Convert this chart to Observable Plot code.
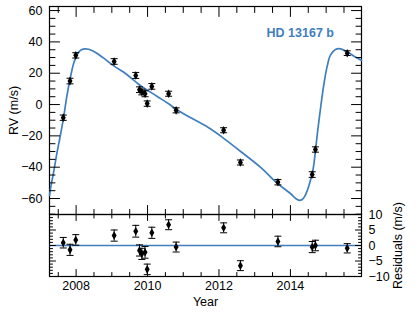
<!DOCTYPE html>
<html><head><meta charset="utf-8">
<script src="https://cdn.jsdelivr.net/npm/d3@7"></script>
<script src="https://cdn.jsdelivr.net/npm/@observablehq/plot@0.6"></script>
<style>
body{margin:0;background:#fff;}
#chart{position:relative;width:415px;height:312px;}
#chart > svg{position:absolute;left:0;overflow:visible;background:none;}
</style></head><body><div id="chart"></div>
<script>
// ---- data ----
const obsYear = [2007.64, 2007.83, 2007.99, 2009.065, 2009.67, 2009.775, 2009.84, 2009.93, 2009.99, 2010.12, 2010.59, 2010.80, 2012.13, 2012.60, 2013.65, 2014.61, 2014.70, 2015.59];
const obsRV   = [-8.4, 15.0, 31.4, 27.5, 18.6, 9.5, 8.0, 6.9, 0.6, 11.6, 6.9, -3.7, -16.4, -37.0, -49.6, -44.7, -28.7, 32.8];
const obsErr  = [1.7, 1.8, 1.7, 1.8, 1.9, 1.8, 1.8, 1.9, 1.7, 1.8, 1.6, 1.6, 1.6, 1.6, 1.7, 1.8, 1.7, 1.5];
const residual = [0.9, -1.4, 1.8, 3.2, 4.6, -1.6, -2.7, -2.2, -7.7, 4.1, 6.7, -0.5, 5.7, -6.5, 1.3, -0.5, 0.0, -0.9];

const curveYear = [2007.257, 2007.30, 2007.364, 2007.459, 2007.551, 2007.644, 2007.739, 2007.832, 2007.924, 2007.99, 2008.064, 2008.15, 2008.252, 2008.35, 2008.485, 2008.64, 2008.793, 2009.065, 2009.326, 2009.67, 2009.794, 2010.262, 2010.59, 2010.80, 2011.24, 2011.70, 2012.08, 2012.598, 2013.158, 2013.627, 2014.0, 2014.15, 2014.25, 2014.33, 2014.40, 2014.47, 2014.53, 2014.61, 2014.66, 2014.70, 2014.77, 2014.84, 2014.93, 2015.03, 2015.12, 2015.26, 2015.40, 2015.59, 2015.82, 2015.99];
const curveRV = [-58.0, -51.5, -44.0, -31.5, -20.7, -9.0, 5.0, 16.5, 25.8, 30.0, 33.3, 35.0, 35.6, 35.3, 34.0, 31.8, 29.3, 24.5, 20.8, 14.5, 12.2, 5.3, 0.5, -3.0, -8.8, -14.6, -20.6, -29.8, -40.0, -50.2, -56.8, -60.0, -61.2, -60.6, -58.6, -55.0, -50.8, -44.2, -37.5, -29.5, -15.5, -3.0, 12.0, 24.5, 31.5, 35.2, 35.6, 33.7, 30.3, 28.2];

const yearMajor = [2008, 2010, 2012, 2014];
const yearMinor = [2007.5, 2008.5, 2009, 2009.5, 2010.5, 2011, 2011.5, 2012.5, 2013, 2013.5, 2014.5, 2015, 2015.5];
const rvMajor = [-60, -40, -20, 0, 20, 40, 60];
const rvMinor = [-70, -65, -55, -50, -45, -35, -30, -25, -15, -10, -5, 5, 10, 15, 25, 30, 35, 45, 50, 55];
const resMajor = [-10, -5, 0, 5, 10];
const resMinor = [-9, -8, -7, -6, -4, -3, -2, -1, 1, 2, 3, 4, 6, 7, 8, 9];

const planetName = "HD 13167 b";
const xLabel = "Year";
const yLabel = "RV (m/s)";
const resLabel = "Residuals (m/s)";
// ---------------------------------------

const blue = "#3f7fbf";
const font = "'Liberation Sans', Arial, sans-serif";
const obs = obsYear.map((x, i) => ({x, rv: obsRV[i], err: obsErr[i], res: residual[i]}));
const curve = curveYear.map((x, i) => ({x, rv: curveRV[i]}));
const capSymbol = {draw(ctx, size) { const r = Math.sqrt(size / Math.PI); ctx.moveTo(-r, 0); ctx.lineTo(r, 0); }};
const xDomain = [2007.255, 2015.99];
const rvDomain = [-70.2, 62.6];
const resDomain = [-10, 10];
const W = 415, ML = 49, MR = 54, FW = W - ML - MR;

// inward frame ticks drawn as two-point line segments (grouped by z); px lengths -> data units
function frameTicks(yDomain, FH, yMinor, yMajor, yLen, xLen) {
  const kx = (xDomain[1] - xDomain[0]) / FW, ky = (yDomain[1] - yDomain[0]) / FH;
  const pts = [];
  let id = 0;
  const seg = (x1, y1, x2, y2) => { pts.push({x: x1, y: y1, z: id}, {x: x2, y: y2, z: id}); id++; };
  for (const [vals, len] of [[yMinor, yLen[0]], [yMajor, yLen[1]]]) for (const v of vals) {
    seg(xDomain[0], v, xDomain[0] + len * kx, v);
    seg(xDomain[1] - len * kx, v, xDomain[1], v);
  }
  for (const [vals, lt, lb] of [[yearMinor, xLen[0], xLen[2]], [yearMajor, xLen[1], xLen[3]]]) for (const v of vals) {
    seg(v, yDomain[1] - lt * ky, v, yDomain[1]);
    seg(v, yDomain[0], v, yDomain[0] + lb * ky);
  }
  return Plot.line(pts, {x: "x", y: "y", z: "z", stroke: "black", strokeWidth: 1});
}

const TH = 215, TMT = 6, TMB = 1;
const topPlot = Plot.plot({
  width: W, height: TH,
  marginLeft: ML, marginRight: MR, marginTop: TMT, marginBottom: TMB,
  style: {fontFamily: font, fontSize: "12.5px", background: "none", overflow: "visible"},
  x: {domain: xDomain, axis: null},
  y: {domain: rvDomain},
  marks: [
    Plot.frame({stroke: "black", strokeWidth: 1.2}),
    Plot.axisY(rvMajor, {anchor: "left", tickSize: 0, tickPadding: 7, label: null, fontSize: 12.5}),
    Plot.line(curve, {x: "x", y: "rv", stroke: blue, strokeWidth: 1.7, curve: "catmull-rom"}),
    Plot.ruleX(obs, {x: "x", y1: d => d.rv - d.err, y2: d => d.rv + d.err, stroke: "black", strokeWidth: 1}),
    Plot.dot(obs, {x: "x", y: d => d.rv - d.err, symbol: capSymbol, r: 3.5, stroke: "black", strokeWidth: 1}),
    Plot.dot(obs, {x: "x", y: d => d.rv + d.err, symbol: capSymbol, r: 3.5, stroke: "black", strokeWidth: 1}),
    Plot.dot(obs, {x: "x", y: "rv", symbol: "diamond", r: 2.6, fill: "black", stroke: "none"}),
    Plot.text([planetName], {frameAnchor: "top-right", dx: -27.5, dy: 21.5, textAnchor: "end", fill: blue, fontWeight: "bold", fontSize: 12.5}),
    Plot.text([yLabel], {frameAnchor: "left", dx: -36, rotate: -90, textAnchor: "middle", fontSize: 12.5, fill: "black"}),
    frameTicks(rvDomain, TH - TMT - TMB, rvMinor, rvMajor, [5.5, 10], [6, 10, 5, 9])
  ]
});
topPlot.style.top = "0px";

const BH = 98, BMT = 0, BMB = 36;
const bottomPlot = Plot.plot({
  width: W, height: BH,
  marginLeft: ML, marginRight: MR, marginTop: BMT, marginBottom: BMB,
  style: {fontFamily: font, fontSize: "12.5px", background: "none", overflow: "visible"},
  x: {domain: xDomain},
  y: {domain: resDomain},
  marks: [
    Plot.frame({stroke: "black", strokeWidth: 1.2}),
    Plot.axisY(resMajor, {anchor: "right", tickSize: 0, tickPadding: 7, label: null, fontSize: 12.5}),
    Plot.axisX(yearMajor, {anchor: "bottom", tickSize: 0, tickPadding: 5, label: null, fontSize: 12.5, tickFormat: d => String(d)}),
    Plot.ruleY([0], {stroke: blue, strokeWidth: 1.7}),
    Plot.ruleX(obs, {x: "x", y1: d => d.res - d.err, y2: d => d.res + d.err, stroke: "black", strokeWidth: 1}),
    Plot.dot(obs, {x: "x", y: d => d.res - d.err, symbol: capSymbol, r: 3.5, stroke: "black", strokeWidth: 1}),
    Plot.dot(obs, {x: "x", y: d => d.res + d.err, symbol: capSymbol, r: 3.5, stroke: "black", strokeWidth: 1}),
    Plot.dot(obs, {x: "x", y: "res", symbol: "diamond", r: 2.6, fill: "black", stroke: "none"}),
    Plot.text([xLabel], {frameAnchor: "bottom", dy: 25, lineAnchor: "middle", textAnchor: "middle", fontSize: 12.5, fill: "black"}),
    Plot.text([resLabel], {frameAnchor: "right", dx: 36.5, rotate: -90, textAnchor: "middle", fontSize: 12.5, fill: "black"}),
    frameTicks(resDomain, BH - BMT - BMB, resMinor, resMajor, [3, 6], [3.5, 6, 4, 7])
  ]
});
bottomPlot.style.top = "214px";

const chart = document.getElementById("chart");
chart.appendChild(topPlot);
chart.appendChild(bottomPlot);
</script>
</body></html>
